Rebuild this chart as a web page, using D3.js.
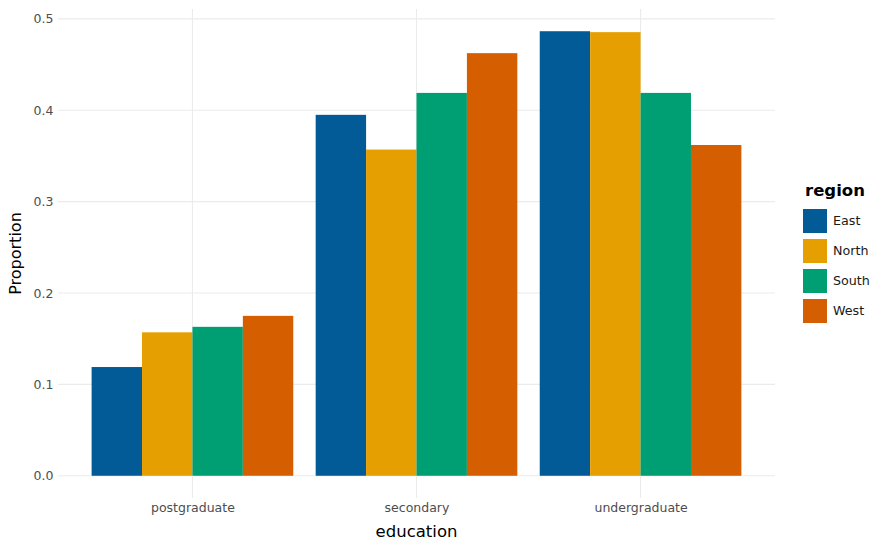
<!DOCTYPE html>
<html>
<head>
<meta charset="utf-8">
<script src="https://cdn.jsdelivr.net/npm/d3@7"></script>
<style>
  body { margin: 0; background: #fff; }
  svg { display: block; font-family: "DejaVu Sans", sans-serif; }
</style>
</head>
<body>
<svg id="chart" width="880" height="550"></svg>
<script>
const categories = ["postgraduate", "secondary", "undergraduate"];
const regions = ["East", "North", "South", "West"];
const colors = ["#025A96", "#E69F00", "#009E73", "#D55E00"];
const East  = [0.119, 0.395, 0.4865];
const North = [0.157, 0.357, 0.4855];
const South = [0.163, 0.419, 0.419];
const West  = [0.175, 0.4625, 0.362];
const yTicks = [0, 0.1, 0.2, 0.3, 0.4, 0.5];

const seriesValues = { East, North, South, West };
const data = [];
categories.forEach((c, i) => regions.forEach(r => data.push({ cat: c, region: r, value: seriesValues[r][i] })));

const svg = d3.select("#chart");
const panel = { left: 58, right: 775, top: 9, bottom: 498 };

// ggplot-like discrete expansion of 0.6 on each side, bar width 0.9
const xUnit = d3.scaleLinear().domain([0.4, categories.length + 0.6]).range([panel.left, panel.right]);
const center = c => xUnit(categories.indexOf(c) + 1);
const groupW = xUnit(1.9) - xUnit(1);
const inner = d3.scaleBand().domain(regions).range([-groupW / 2, groupW / 2]).padding(0);

const maxV = d3.max(data, d => d.value);
const y = d3.scaleLinear().domain([-0.05 * maxV, maxV * 1.05]).range([panel.bottom, panel.top]);
const color = d3.scaleOrdinal().domain(regions).range(colors);

// gridlines
svg.append("g").selectAll("line").data(yTicks).join("line")
  .attr("x1", panel.left).attr("x2", panel.right)
  .attr("y1", d => y(d)).attr("y2", d => y(d))
  .attr("stroke", "#ebebeb").attr("stroke-width", 1.07);
svg.append("g").selectAll("line").data(categories).join("line")
  .attr("x1", d => center(d)).attr("x2", d => center(d))
  .attr("y1", panel.top).attr("y2", panel.bottom)
  .attr("stroke", "#ebebeb").attr("stroke-width", 1.07);

// bars
svg.append("g").selectAll("rect").data(data).join("rect")
  .attr("x", d => center(d.cat) + inner(d.region))
  .attr("width", inner.bandwidth())
  .attr("y", d => y(d.value))
  .attr("height", d => y(0) - y(d.value))
  .attr("fill", d => color(d.region));

// y axis labels
const yAxis = d3.axisLeft(y).tickValues(yTicks).tickFormat(d3.format(".1f")).tickSize(0).tickPadding(4);
const gy = svg.append("g").attr("transform", `translate(${panel.left - 0.5},0)`).call(yAxis);
gy.select(".domain").remove();
gy.selectAll("text").attr("fill", "#4d4d4d").style("font-size", "12.5px").style("font-family", "DejaVu Sans");

// x axis labels
const xAxisScale = d3.scaleOrdinal().domain(categories).range(categories.map(center));
const gx = svg.append("g").attr("transform", `translate(0,${panel.bottom})`)
  .call(d3.axisBottom(xAxisScale).tickSize(0).tickPadding(5));
gx.select(".domain").remove();
gx.selectAll("text").attr("fill", "#4d4d4d").style("font-size", "12.5px").style("font-family", "DejaVu Sans");

// axis titles
svg.append("text").attr("x", (panel.left + panel.right) / 2).attr("y", 537)
  .attr("text-anchor", "middle").style("font-size", "16.5px").attr("fill", "#000").text("education");
svg.append("text").attr("transform", `translate(21,${(panel.top + panel.bottom) / 2}) rotate(-90)`)
  .attr("text-anchor", "middle").style("font-size", "16px").attr("fill", "#000").text("Proportion");

// legend
const lg = svg.append("g");
lg.append("text").attr("x", 805).attr("y", 196).style("font-size", "16.5px").style("font-weight", "bold")
  .attr("fill", "#000").text("region");
const items = lg.selectAll("g.item").data(regions).join("g").attr("class", "item")
  .attr("transform", (d, i) => `translate(803,${209 + i * 30})`);
items.append("rect").attr("width", 24).attr("height", 24).attr("fill", d => color(d));
items.append("text").attr("x", 30).attr("y", 12).attr("dy", "0.35em")
  .style("font-size", "12.7px").attr("fill", "#1a1a1a").text(d => d);
</script>
</body>
</html>
